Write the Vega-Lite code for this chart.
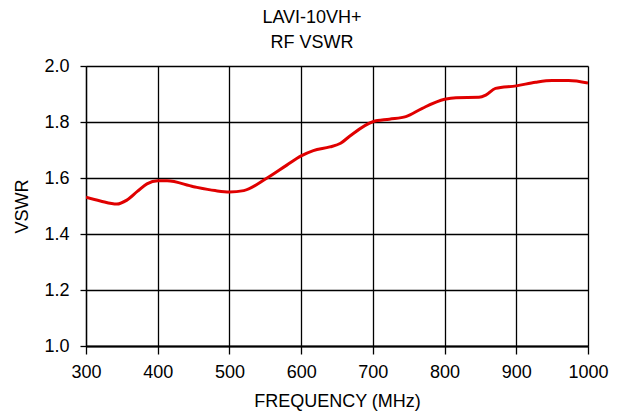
{
  "$schema": "https://vega.github.io/schema/vega-lite/v6.json",
  "width": 502,
  "height": 280,
  "autosize": {"type": "none"},
  "padding": {"left": 86, "top": 66, "right": 36, "bottom": 69},
  "background": "white",
  "title": {
    "text": ["LAVI-10VH+", "RF VSWR"],
    "font": "Liberation Sans",
    "fontSize": 18,
    "fontWeight": "normal",
    "color": "black",
    "anchor": "middle",
    "frame": "group",
    "dx": -25,
    "lineHeight": 25,
    "offset": 5
  },
  "data": {
    "values": [
      {"freq": 300, "vswr": 1.531},
      {"freq": 320, "vswr": 1.518},
      {"freq": 343, "vswr": 1.507},
      {"freq": 357, "vswr": 1.521},
      {"freq": 372, "vswr": 1.553},
      {"freq": 385, "vswr": 1.579},
      {"freq": 400, "vswr": 1.59},
      {"freq": 413, "vswr": 1.59},
      {"freq": 450, "vswr": 1.569},
      {"freq": 480, "vswr": 1.555},
      {"freq": 500, "vswr": 1.55},
      {"freq": 520, "vswr": 1.555},
      {"freq": 552, "vswr": 1.599},
      {"freq": 580, "vswr": 1.646},
      {"freq": 600, "vswr": 1.679},
      {"freq": 617, "vswr": 1.698},
      {"freq": 640, "vswr": 1.711},
      {"freq": 655, "vswr": 1.724},
      {"freq": 668, "vswr": 1.75},
      {"freq": 700, "vswr": 1.801},
      {"freq": 723, "vswr": 1.81},
      {"freq": 746, "vswr": 1.819},
      {"freq": 769, "vswr": 1.849},
      {"freq": 800, "vswr": 1.881},
      {"freq": 816, "vswr": 1.887},
      {"freq": 848, "vswr": 1.888},
      {"freq": 858, "vswr": 1.897},
      {"freq": 871, "vswr": 1.92},
      {"freq": 900, "vswr": 1.929},
      {"freq": 927, "vswr": 1.942},
      {"freq": 950, "vswr": 1.948},
      {"freq": 973, "vswr": 1.948},
      {"freq": 1000, "vswr": 1.939}
    ]
  },
  "mark": {"type": "line", "color": "#e00000", "strokeWidth": 3, "interpolate": "monotone", "clip": true},
  "encoding": {
    "x": {
      "field": "freq",
      "type": "quantitative",
      "scale": {"domain": [300, 1000], "nice": false, "zero": false},
      "axis": {
        "title": "FREQUENCY (MHz)",
        "values": [300, 400, 500, 600, 700, 800, 900, 1000],
        "format": "d",
        "grid": true,
        "gridColor": "black",
        "gridOpacity": 1,
        "gridWidth": 1.3,
        "domainColor": "black",
        "domainWidth": 2,
        "tickColor": "black",
        "tickSize": 8,
        "tickWidth": 1.3,
        "labelFont": "Liberation Sans",
        "labelFontSize": 18,
        "labelColor": "black",
        "labelPadding": 9,
        "labelFlush": false,
        "titleFont": "Liberation Sans",
        "titleFontSize": 18,
        "titleFontWeight": "normal",
        "titleColor": "black",
        "titlePadding": 11
      }
    },
    "y": {
      "field": "vswr",
      "type": "quantitative",
      "scale": {"domain": [1.0, 2.0], "nice": false, "zero": false},
      "axis": {
        "title": "VSWR",
        "values": [1.0, 1.2, 1.4, 1.6, 1.8, 2.0],
        "format": ".1f",
        "grid": true,
        "gridColor": "black",
        "gridOpacity": 1,
        "gridWidth": 1.3,
        "domainColor": "black",
        "domainWidth": 1.3,
        "tickColor": "black",
        "tickSize": 6,
        "tickWidth": 1.3,
        "labelFont": "Liberation Sans",
        "labelFontSize": 18,
        "labelColor": "black",
        "labelPadding": 11,
        "labelFlush": false,
        "titleFont": "Liberation Sans",
        "titleFontSize": 18,
        "titleFontWeight": "normal",
        "titleColor": "black",
        "titlePadding": 12
      }
    }
  },
  "config": {"view": {"stroke": null}}
}
